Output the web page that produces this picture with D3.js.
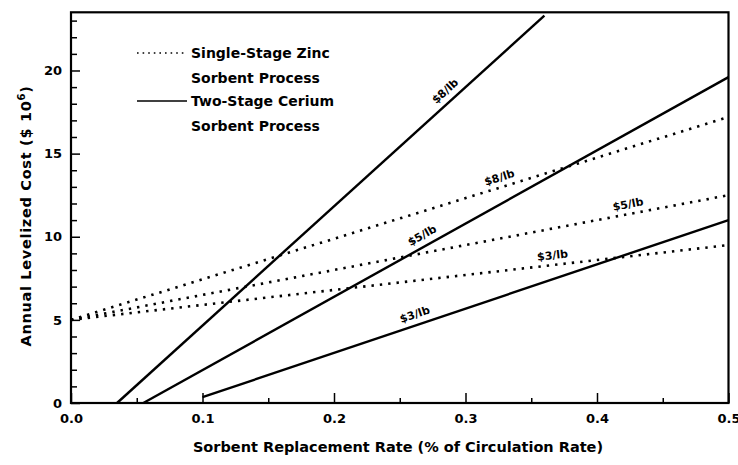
<!DOCTYPE html>
<html>
<head>
<meta charset="utf-8">
<script src="https://cdn.jsdelivr.net/npm/d3@7"></script>
<style>
  html, body { margin: 0; padding: 0; background: #fff; }
  svg { display: block; }
  text { font-family: "DejaVu Sans", "Liberation Sans", Arial, sans-serif; font-weight: bold; fill: #000; }
</style>
</head>
<body>
<svg id="chart" width="738" height="465"></svg>
<script>
// Sorbent replacement rate (% of circulation rate) vs. annual levelized cost ($ 10^6)
// Single-stage zinc sorbent process (dotted lines), by sorbent price
const zinc8 = [[0.0, 5.0], [0.5, 17.2]];
const zinc5 = [[0.0, 5.0], [0.5, 12.5]];
const zinc3 = [[0.0, 5.0], [0.5, 9.5]];
// Two-stage cerium sorbent process (solid lines), by sorbent price
const cerium8 = [[0.035, 0.0], [0.36, 23.3]];
const cerium5 = [[0.055, 0.0], [0.5, 19.6]];
const cerium3 = [[0.1, 0.35], [0.5, 11.0]];

const priceLabels = ["$8/lb", "$5/lb", "$3/lb"];
// rate at which each price label sits along its line
const zincLabelRates = [0.328, 0.425, 0.367];
const ceriumLabelRates = [0.29, 0.271, 0.264];

const xTicks = [0.0, 0.1, 0.2, 0.3, 0.4, 0.5];
const xMinorTicks = [0.05, 0.15, 0.25, 0.35, 0.45];
const yTicks = [0, 5, 10, 15, 20];
const yMinorTicks = [1, 2, 3, 4, 6, 7, 8, 9, 11, 12, 13, 14, 16, 17, 18, 19, 21, 22, 23];

const legendNames = [["Single-Stage Zinc", "Sorbent Process"], ["Two-Stage Cerium", "Sorbent Process"]];

const svg = d3.select("#chart");
const plotL = 71, plotR = 728.5, plotT = 12.3, plotB = 403;

const x = d3.scaleLinear().domain([0, 0.5]).range([plotL, plotR]);
const y = d3.scaleLinear().domain([0, 23.5]).range([plotB, plotT]);

const line = d3.line().x(d => x(d[0])).y(d => y(d[1]));

// axes with inward ticks
svg.append("g").attr("transform", `translate(0,${plotB})`)
  .call(d3.axisBottom(x).tickValues(xTicks).tickFormat(d3.format(".1f"))
    .tickSizeInner(-10).tickSizeOuter(0).tickPadding(11));
svg.append("g").attr("transform", `translate(0,${plotB})`)
  .call(d3.axisBottom(x).tickValues(xMinorTicks).tickFormat("")
    .tickSizeInner(-5).tickSizeOuter(0));

svg.append("g").attr("transform", `translate(${plotL},0)`)
  .call(d3.axisLeft(y).tickValues(yTicks).tickFormat(d3.format("d"))
    .tickSizeInner(-9).tickSizeOuter(0).tickPadding(9));
svg.append("g").attr("transform", `translate(${plotL},0)`)
  .call(d3.axisLeft(y).tickValues(yMinorTicks).tickFormat("")
    .tickSizeInner(-6).tickSizeOuter(0));

svg.selectAll(".domain").remove();
svg.selectAll(".tick line").attr("stroke", "#000").attr("stroke-width", 1.5);
svg.selectAll(".tick text").attr("font-size", 13).attr("font-family", "DejaVu Sans").attr("font-weight", "bold");

// frame
svg.append("rect")
  .attr("x", plotL).attr("y", plotT)
  .attr("width", plotR - plotL).attr("height", plotB - plotT)
  .attr("fill", "none").attr("stroke", "#000").attr("stroke-width", 2.2);

// lines
const zincLines = [zinc8, zinc5, zinc3];
const ceriumLines = [cerium8, cerium5, cerium3];

svg.append("g").selectAll("path").data(zincLines).join("path")
  .attr("d", line).attr("fill", "none").attr("stroke", "#000")
  .attr("stroke-width", 2.6).attr("stroke-dasharray", "2.4 6");

svg.append("g").selectAll("path").data(ceriumLines).join("path")
  .attr("d", line).attr("fill", "none").attr("stroke", "#000")
  .attr("stroke-width", 2.4);

// price labels set along each line, lifted off it by `gap` pixels
function placeLabel(pts, rate, text, gap) {
  const [a, b] = pts;
  const t = (rate - a[0]) / (b[0] - a[0]);
  const val = a[1] + t * (b[1] - a[1]);
  const px = x(rate), py = y(val);
  const ang = Math.atan2(y(b[1]) - y(a[1]), x(b[0]) - x(a[0])) * 180 / Math.PI;
  svg.append("text")
    .attr("transform", `translate(${px},${py}) rotate(${ang})`)
    .attr("x", 0).attr("y", -gap)
    .attr("text-anchor", "middle")
    .attr("font-size", 11)
    .text(text);
}
zincLines.forEach((pts, i) => placeLabel(pts, zincLabelRates[i], priceLabels[i], 6));
ceriumLines.forEach((pts, i) => placeLabel(pts, ceriumLabelRates[i], priceLabels[i], 7));

// legend
const lg = svg.append("g");
[["1.6 4", 53], [null, 101]].forEach(([dash, ly], i) => {
  lg.append("line").attr("x1", 137).attr("x2", 187).attr("y1", ly).attr("y2", ly)
    .attr("stroke", "#000").attr("stroke-width", dash ? 1.6 : 1.6)
    .attr("stroke-dasharray", dash);
  legendNames[i].forEach((s, j) => {
    lg.append("text").attr("x", 191).attr("y", ly + 5 + j * 25)
      .attr("font-size", 14).text(s);
  });
});

// axis titles
svg.append("text")
  .attr("x", 398).attr("y", 452)
  .attr("text-anchor", "middle").attr("font-size", 14.5)
  .text("Sorbent Replacement Rate (% of Circulation Rate)");

const yt = svg.append("text")
  .attr("transform", "translate(31,216) rotate(-90)")
  .attr("text-anchor", "middle").attr("font-size", 14.5)
  .attr("letter-spacing", 0.7);
yt.append("tspan").text("Annual Levelized Cost ($ 10");
yt.append("tspan").attr("font-size", 10).attr("dy", -6).text("6");
yt.append("tspan").attr("dy", 6).text(")");
</script>
</body>
</html>
